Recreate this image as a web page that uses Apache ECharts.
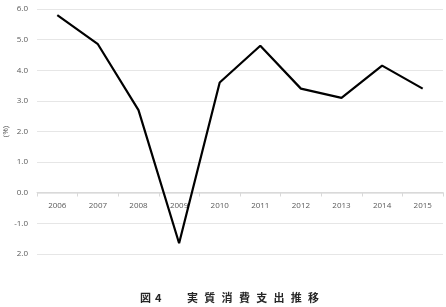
<!DOCTYPE html>
<html><head><meta charset="utf-8">
<script src="https://cdn.jsdelivr.net/npm/echarts@6/dist/echarts.min.js"></script>
<style>html,body{margin:0;padding:0;background:#fff}#c{width:446px;height:307px}</style>
</head><body><div id="c"></div>
<script>
var years = ['2006','2007','2008','2009','2010','2011','2012','2013','2014','2015'];
var values = [5.8, 4.85, 2.7, -1.65, 3.6, 4.8, 3.4, 3.1, 4.15, 3.4];
var yTickLabels = {'6':'6.0','5':'5.0','4':'4.0','3':'3.0','2':'2.0','1':'1.0','0':'0.0','-1':'-1.0','-2':'2.0'};
var figLabel = ['図', '4'];
var titleChars = ['実', '質', '消', '費', '支', '出', '推', '移'];
var yName = '(%)';

var titleText = '{f|' + figLabel[0] + '}{n|' + figLabel[1] + '}' +
  titleChars.map(function(c){ return '{c|' + c + '}'; }).join('');
var base = {fontFamily: 'Noto Sans CJK JP', fontSize: 11, fontWeight: 'bold', color: '#262626'};

var chart = echarts.init(document.getElementById('c'));
chart.setOption({
  animation: false,
  grid: {left: 37, right: 3, top: 9, bottom: 53, containLabel: false, outerBoundsMode: 'none'},
  title: {text: titleText, left: 135, top: 287,
    textStyle: Object.assign({}, base, {rich: {
      f: Object.assign({}, base, {width: 15}),
      n: Object.assign({}, base, {width: 32}),
      c: Object.assign({}, base, {width: 17.3})
    }})},
  xAxis: {
    type: 'category', data: years, boundaryGap: true, position: 'bottom', offset: -61.5,
    axisLine: {onZero: false, lineStyle: {color: '#d9d9d9'}},
    axisTick: {show: true, length: 4, lineStyle: {color: '#d9d9d9'}},
    axisLabel: {color: '#595959', fontSize: 8, fontFamily: 'Open Sans', margin: 9}
  },
  yAxis: {
    type: 'value', min: -2, max: 6, interval: 1,
    name: yName, nameLocation: 'middle', nameGap: 27, nameRotate: 90, nameMoveOverlap: false,
    nameTextStyle: {color: '#595959', fontSize: 8, fontFamily: 'Open Sans'},
    axisLine: {show: false}, axisTick: {show: false},
    axisLabel: {color: '#595959', fontSize: 8, fontFamily: 'Open Sans', margin: 9,
      formatter: function(v){ return yTickLabels[String(v)]; }},
    splitLine: {lineStyle: {color: '#e6e6e6'}}
  },
  series: [{
    type: 'line', data: values, symbol: 'none',
    lineStyle: {color: '#000', width: 2.2}
  }]
});
</script></body></html>
